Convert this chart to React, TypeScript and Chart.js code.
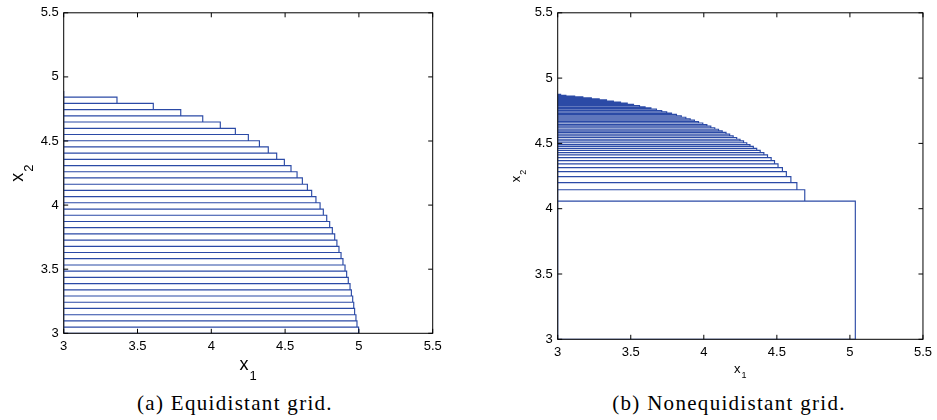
import React, { useEffect, useRef } from "react";
import { Chart, registerables } from "chart.js";

Chart.register(...registerables);

// ---------- data ----------
const x1Start = 3;
const axisTicks = [3, 3.5, 4, 4.5, 5, 5.5];

// (a) equidistant grid: cell boundaries in x2 (bottom -> top)
const gridAEdges = [
  3.0, 3.048, 3.097, 3.145, 3.194, 3.242, 3.291, 3.339, 3.388, 3.436,
  3.485, 3.533, 3.582, 3.63, 3.678, 3.727, 3.775, 3.824, 3.872, 3.921,
  3.969, 4.018, 4.066, 4.115, 4.163, 4.212, 4.26, 4.308, 4.357, 4.405,
  4.454, 4.502, 4.551, 4.599, 4.648, 4.696, 4.745, 4.793, 4.842, 4.89,
];
// (a) right end (x1) of each cell, bottom -> top
const gridAReach = [
  4.998, 4.987, 4.98, 4.971, 4.965, 4.958, 4.949, 4.94, 4.928, 4.917,
  4.906, 4.892, 4.879, 4.865, 4.851, 4.836, 4.82, 4.802, 4.782, 4.759,
  4.737, 4.709, 4.68, 4.651, 4.617, 4.581, 4.54, 4.495, 4.443, 4.386,
  4.326, 4.251, 4.163, 4.061, 3.942, 3.793, 3.607, 3.361, 3.0,
];

// (b) nonequidistant grid: cell boundaries in x2 (bottom -> top)
const gridBEdges = [
  3.0, 4.058, 4.145, 4.2, 4.246, 4.284, 4.315, 4.343, 4.368, 4.391,
  4.412, 4.429, 4.447, 4.462, 4.477, 4.491, 4.505, 4.519, 4.532, 4.545,
  4.558, 4.571, 4.584, 4.596, 4.608, 4.62, 4.632, 4.644, 4.656, 4.667,
  4.678, 4.689, 4.7, 4.711, 4.722, 4.732, 4.742, 4.752, 4.762, 4.772,
  4.781, 4.79, 4.799, 4.808, 4.817, 4.825, 4.833, 4.841, 4.849, 4.856,
  4.863, 4.869, 4.875,
];
// (b) right end (x1) of each cell, bottom -> top
const gridBReach = [
  5.037, 4.691, 4.637, 4.596, 4.565, 4.538, 4.508, 4.484, 4.461, 4.436,
  4.411, 4.386, 4.362, 4.339, 4.316, 4.294, 4.272, 4.248, 4.225, 4.201,
  4.177, 4.152, 4.126, 4.101, 4.075, 4.048, 4.021, 3.993, 3.964, 3.936,
  3.907, 3.877, 3.846, 3.813, 3.779, 3.746, 3.712, 3.676, 3.638, 3.598,
  3.56, 3.519, 3.476, 3.43, 3.381, 3.334, 3.284, 3.23, 3.172, 3.116,
  3.056, 3.02,
];

const captionA = "(a) Equidistant grid.";
const captionB = "(b) Nonequidistant grid.";

// ---------- helpers ----------
type Pt = { x: number; y: number | null };

function rectPoints(edges: number[], reach: number[]): Pt[] {
  const pts: Pt[] = [];
  for (let i = 0; i < reach.length; i++) {
    const y0 = edges[i];
    const y1 = edges[i + 1];
    const r = reach[i];
    pts.push({ x: x1Start, y: y0 });
    pts.push({ x: r, y: y0 });
    pts.push({ x: r, y: y1 });
    pts.push({ x: x1Start, y: y1 });
    pts.push({ x: x1Start, y: y0 });
    pts.push({ x: x1Start, y: null });
  }
  return pts;
}

const boxPlugin = {
  id: "matlabBox",
  afterDatasetsDraw(chart: any) {
    const { ctx, chartArea: a, scales } = chart;
    const L = 4.5;
    ctx.save();
    ctx.strokeStyle = "#000";
    ctx.lineWidth = 1;
    ctx.beginPath();
    for (const t of scales.x.ticks) {
      const px = scales.x.getPixelForValue(t.value);
      ctx.moveTo(px, a.bottom);
      ctx.lineTo(px, a.bottom - L);
      ctx.moveTo(px, a.top);
      ctx.lineTo(px, a.top + L);
    }
    for (const t of scales.y.ticks) {
      const py = scales.y.getPixelForValue(t.value);
      ctx.moveTo(a.left, py);
      ctx.lineTo(a.left + L, py);
      ctx.moveTo(a.right, py);
      ctx.lineTo(a.right - L, py);
    }
    ctx.stroke();
    ctx.strokeRect(a.left, a.top, a.right - a.left, a.bottom - a.top);
    ctx.restore();
  },
};

const SANS = '"Liberation Sans", Arial, Helvetica, sans-serif';

const labelPlugin = {
  id: "subLabels",
  afterDraw(chart: any, _args: any, opts: any) {
    const { ctx, chartArea: a } = chart;
    const o = opts;
    ctx.save();
    ctx.fillStyle = "#000";
    ctx.textBaseline = "alphabetic";
    ctx.textAlign = "left";
    // x label
    ctx.font = `${o.size}px ${SANS}`;
    const w1 = ctx.measureText("x").width;
    ctx.font = `${o.subSize}px ${SANS}`;
    const w2 = ctx.measureText(o.xSub).width;
    const cx = (a.left + a.right) / 2;
    const x0 = cx - (w1 + o.gap + w2) / 2;
    const base = a.bottom + o.xOffset;
    ctx.font = `${o.size}px ${SANS}`;
    ctx.fillText("x", x0, base);
    ctx.font = `${o.subSize}px ${SANS}`;
    ctx.fillText(o.xSub, x0 + w1 + o.gap, base + o.drop);
    // y label (rotated)
    const cy = (a.top + a.bottom) / 2;
    ctx.translate(a.left - o.yOffset, cy);
    ctx.rotate(-Math.PI / 2);
    ctx.font = `${o.size}px ${SANS}`;
    ctx.fillText("x", x0 - cx, 0);
    ctx.font = `${o.subSize}px ${SANS}`;
    ctx.fillText(o.ySub, x0 - cx + w1 + o.gap, o.drop);
    ctx.restore();
  },
};

type PanelProps = {
  left: number;
  width: number;
  height: number;
  area: { l: number; t: number; r: number; b: number };
  edges: number[];
  reach: number[];
  label: any;
};

function Panel({ left, width, height, area, edges, reach, label }: PanelProps) {
  const ref = useRef<HTMLCanvasElement | null>(null);
  useEffect(() => {
    if (!ref.current) return;
    const tickFont = { family: SANS, size: 13 };
    const chart = new Chart(ref.current, {
      type: "scatter",
      data: {
        datasets: [
          {
            data: rectPoints(edges, reach) as any,
            showLine: true,
            spanGaps: false,
            borderColor: "#2b4aa6",
            borderWidth: 1.15,
            pointRadius: 0,
            pointHoverRadius: 0,
            fill: false,
            tension: 0,
          },
        ],
      },
      options: {
        animation: false,
        responsive: false,
        devicePixelRatio: 1,
        events: [],
        layout: {
          padding: { left: 0, top: area.t, right: width - area.r, bottom: 0 },
        },
        plugins: {
          legend: { display: false },
          tooltip: { enabled: false },
          subLabels: label,
        } as any,
        scales: {
          x: {
            type: "linear",
            min: 3,
            max: 5.5,
            grid: { display: false, drawTicks: false },
            border: { display: false },
            afterBuildTicks: (s: any) => {
              s.ticks = axisTicks.map((v) => ({ value: v }));
            },
            afterFit: (s: any) => {
              s.height = height - area.b;
            },
            ticks: {
              color: "#000",
              font: tickFont,
              padding: 5,
              maxRotation: 0,
              autoSkip: false,
              callback: (v: any) => String(v),
            },
          },
          y: {
            type: "linear",
            min: 3,
            max: 5.5,
            grid: { display: false, drawTicks: false },
            border: { display: false },
            afterBuildTicks: (s: any) => {
              s.ticks = axisTicks.map((v) => ({ value: v }));
            },
            afterFit: (s: any) => {
              s.width = area.l;
            },
            ticks: {
              color: "#000",
              font: tickFont,
              padding: 5,
              autoSkip: false,
              callback: (v: any) => String(v),
            },
          },
        },
      },
      plugins: [boxPlugin, labelPlugin],
    });
    return () => chart.destroy();
  }, []);
  return (
    <canvas
      ref={ref}
      width={width}
      height={height}
      style={{ position: "absolute", left, top: 0, width, height }}
    />
  );
}

const captionStyle: React.CSSProperties = {
  position: "absolute",
  top: 392,
  fontFamily: '"Liberation Serif", "Times New Roman", serif',
  fontSize: 21,
  letterSpacing: "1.3px",
  lineHeight: "22px",
  color: "#000",
  whiteSpace: "nowrap",
  transform: "translateX(-50%)",
};

export default function App() {
  return (
    <div
      style={{
        position: "absolute",
        left: 0,
        top: 0,
        width: 937,
        height: 420,
        background: "#fff",
        overflow: "hidden",
      }}
    >
      <Panel
        left={0}
        width={470}
        height={390}
        area={{ l: 63.7, t: 11.7, r: 432.7, b: 333.3 }}
        edges={gridAEdges}
        reach={gridAReach}
        label={{ size: 18, subSize: 13, gap: 1, drop: 10, xOffset: 36.7, yOffset: 41, xSub: "1", ySub: "2" }}
      />
      <Panel
        left={470}
        width={467}
        height={390}
        area={{ l: 87.7, t: 11.7, r: 456.7, b: 339.3 }}
        edges={gridBEdges}
        reach={gridBReach}
        label={{ size: 13, subSize: 9, gap: 1, drop: 5.5, xOffset: 33.4, yOffset: 37.7, xSub: "1", ySub: "2" }}
      />
      <div style={{ ...captionStyle, left: 235 }}>{captionA}</div>
      <div style={{ ...captionStyle, left: 729 }}>{captionB}</div>
    </div>
  );
}
